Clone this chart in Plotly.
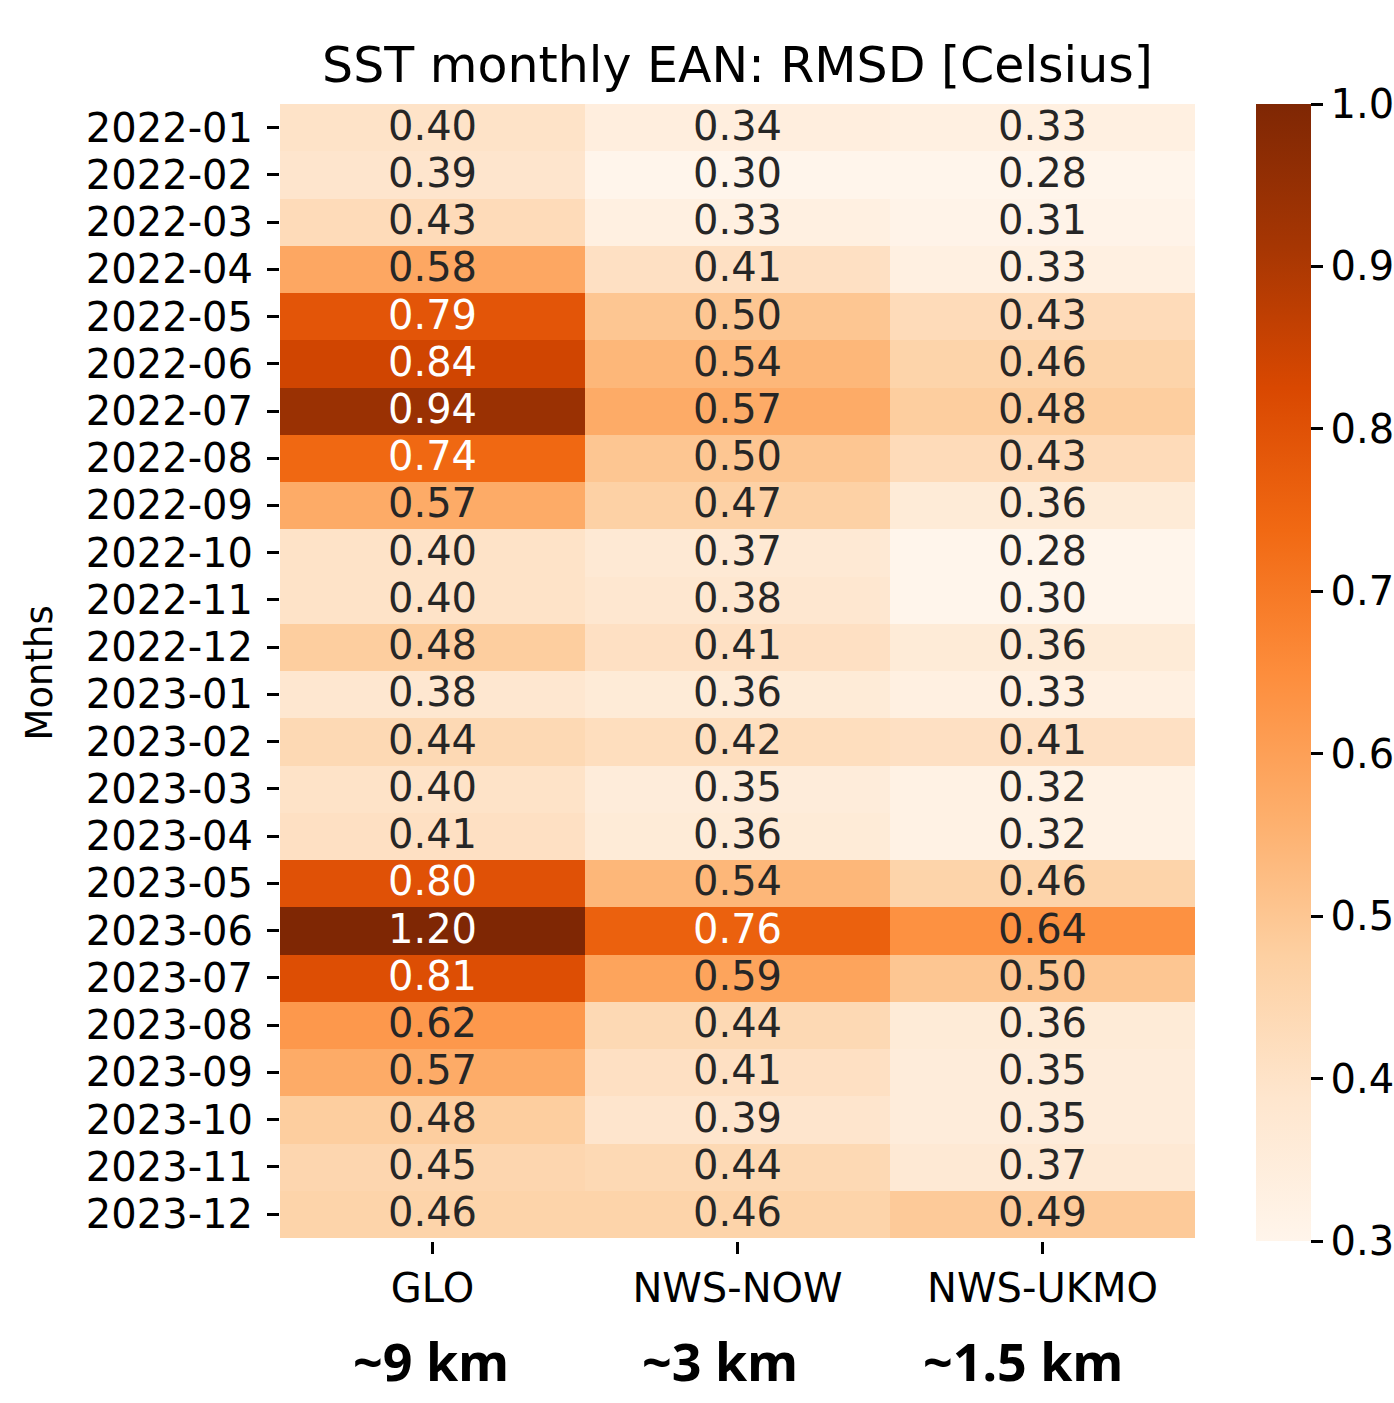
import plotly.graph_objects as go

months = ["2022-01","2022-02","2022-03","2022-04","2022-05","2022-06","2022-07","2022-08",
          "2022-09","2022-10","2022-11","2022-12","2023-01","2023-02","2023-03","2023-04",
          "2023-05","2023-06","2023-07","2023-08","2023-09","2023-10","2023-11","2023-12"]
models = ["GLO", "NWS-NOW", "NWS-UKMO"]
resolutions = ["~9 km", "~3 km", "~1.5 km"]

glo  = [0.40,0.39,0.43,0.58,0.79,0.84,0.94,0.74,0.57,0.40,0.40,0.48,
        0.38,0.44,0.40,0.41,0.80,1.20,0.81,0.62,0.57,0.48,0.45,0.46]
now  = [0.34,0.30,0.33,0.41,0.50,0.54,0.57,0.50,0.47,0.37,0.38,0.41,
        0.36,0.42,0.35,0.36,0.54,0.76,0.59,0.44,0.41,0.39,0.44,0.46]
ukmo = [0.33,0.28,0.31,0.33,0.43,0.46,0.48,0.43,0.36,0.28,0.30,0.36,
        0.33,0.41,0.32,0.32,0.46,0.64,0.50,0.36,0.35,0.35,0.37,0.49]

series = [glo, now, ukmo]
z = [[series[j][i] for j in range(3)] for i in range(len(months))]

oranges = ["#fff5eb", "#fee6ce", "#fdd0a2", "#fdae6b", "#fd8d3c",
           "#f16913", "#d94801", "#a63603", "#7f2704"]
cscale = [[k / (len(oranges) - 1), c] for k, c in enumerate(oranges)]

FONT = "DejaVu Sans"

fig = go.Figure(go.Heatmap(
    z=z, x=models, y=months,
    colorscale=cscale, zmin=0.3, zmax=1.0,
    xgap=0, ygap=0,
    colorbar=dict(
        thickness=55, thicknessmode="pixels",
        len=1, lenmode="fraction", y=0.5, yanchor="middle",
        x=1.0667, xanchor="left", xpad=0, ypad=0,
        outlinewidth=0,
        tickmode="array", tickvals=[0.3,0.4,0.5,0.6,0.7,0.8,0.9,1.0],
        ticktext=["0.3","0.4","0.5","0.6","0.7","0.8","0.9","1.0"],
        ticks="outside", ticklen=12, tickwidth=2.5, tickcolor="black",
        tickfont=dict(family=FONT, size=40, color="black"),
    ),
    hoverinfo="skip",
))

annotations = []
for i, m in enumerate(months):
    for j, mod in enumerate(models):
        v = series[j][i]
        annotations.append(dict(
            x=mod, y=m, xref="x", yref="y", text=f"{v:.2f}", showarrow=False,
            yshift=2,
            font=dict(family=FONT, size=40, color="white" if v >= 0.7 else "#262626"),
        ))

annotations.append(dict(
    x=-0.2623, y=0.5, xref="paper", yref="paper", text="Months", textangle=-90,
    showarrow=False, xanchor="center", yanchor="middle",
    font=dict(family=FONT, size=37, color="black"),
))

res_x = [0.165, 0.481, 0.812]
for rx, r in zip(res_x, resolutions):
    annotations.append(dict(
        x=rx, y=-0.1385, xref="paper", yref="paper", text=f"<b>{r}</b>",
        showarrow=False, xanchor="center", yanchor="bottom",
        font=dict(family="Noto Sans", size=52, color="black"),
    ))

fig.update_layout(
    width=1394, height=1403,
    margin=dict(l=280, r=199, t=104, b=162, pad=0, autoexpand=False),
    paper_bgcolor="white", plot_bgcolor="white",
    title=dict(text="SST monthly EAN: RMSD [Celsius]", x=0.5, xref="paper", xanchor="center",
               y=1 - 65 / 1403, yanchor="middle", yref="container",
               font=dict(family=FONT, size=49, color="black")),
    xaxis=dict(type="category", showgrid=False, zeroline=False, showline=False, ticks="outside",
               ticklen=12, tickwidth=2.5, tickcolor="black",
               tickfont=dict(family=FONT, size=40, color="black")),
    yaxis=dict(type="category", showgrid=False, zeroline=False, showline=False, ticks="outside",
               tickmode="array", tickvals=months, ticktext=months,
               ticklen=12, tickwidth=2.5, tickcolor="black", autorange="reversed",
               ticklabelstandoff=6,
               tickfont=dict(family=FONT, size=40, color="black")),
    annotations=annotations,
    showlegend=False,
)

fig.write_html("out.html")
